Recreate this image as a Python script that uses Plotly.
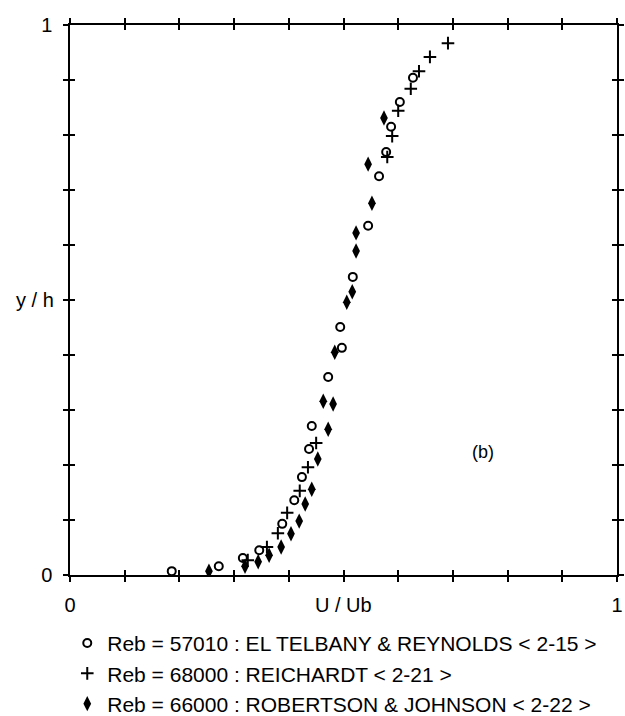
import plotly.graph_objects as go

# Mean velocity profiles U/Ub versus y/h
telbany_u = [0.186, 0.272, 0.316, 0.346, 0.388, 0.410, 0.424, 0.437, 0.442, 0.472,
             0.497, 0.494, 0.517, 0.545, 0.565, 0.578, 0.587, 0.603, 0.627]
telbany_y = [0.007, 0.016, 0.031, 0.045, 0.093, 0.136, 0.178, 0.229, 0.271, 0.360,
             0.413, 0.451, 0.542, 0.635, 0.725, 0.769, 0.815, 0.860, 0.904]

reichardt_u = [0.325, 0.360, 0.380, 0.397, 0.420, 0.435, 0.450,
               0.580, 0.589, 0.600, 0.623, 0.638, 0.658, 0.691]
reichardt_y = [0.027, 0.051, 0.076, 0.113, 0.153, 0.196, 0.240,
               0.760, 0.798, 0.844, 0.884, 0.916, 0.942, 0.967]

robertson_u = [0.254, 0.320, 0.344, 0.364, 0.386, 0.404, 0.419, 0.430, 0.442, 0.453,
               0.472, 0.463, 0.481, 0.484, 0.506, 0.516, 0.523, 0.523, 0.552, 0.545, 0.574]
robertson_y = [0.007, 0.016, 0.024, 0.036, 0.051, 0.075, 0.098, 0.129, 0.156, 0.211,
               0.265, 0.316, 0.311, 0.405, 0.496, 0.515, 0.589, 0.622, 0.676, 0.747, 0.831]

series_names = [
    "Reb = 57010 : EL TELBANY & REYNOLDS < 2-15 >",
    "Reb = 68000 : REICHARDT < 2-21 >",
    "Reb = 66000 : ROBERTSON & JOHNSON < 2-22 >",
]

tick_vals = [i / 10 for i in range(11)]
tick_text = ["0"] + [""] * 9 + ["1"]

FONT = "Liberation Sans, Arial, sans-serif"
INK = "black"

fig = go.Figure()
fig.add_trace(go.Scatter(
    x=telbany_u, y=telbany_y, mode="markers", name=series_names[0],
    marker=dict(symbol="circle-open", size=8, color=INK, line=dict(width=2, color=INK)),
))
fig.add_trace(go.Scatter(
    x=reichardt_u, y=reichardt_y, mode="markers", name=series_names[1],
    marker=dict(symbol="cross-thin-open", size=9, color=INK, line=dict(width=2, color=INK)),
))
fig.add_trace(go.Scatter(
    x=robertson_u, y=robertson_y, mode="markers", name=series_names[2],
    marker=dict(symbol="diamond-tall", size=11, color=INK, line=dict(width=0)),
))

# invisible helper trace on overlaid axes to draw the inner half of the ticks
fig.add_trace(go.Scatter(x=[0, 1], y=[0, 1], xaxis="x2", yaxis="y2", mode="markers",
                         marker=dict(opacity=0), showlegend=False, hoverinfo="skip"))

axis_common = dict(
    range=[0, 1], tickvals=tick_vals, showgrid=False, zeroline=False,
    showline=True, linecolor=INK, linewidth=1.5, mirror="ticks",
    tickcolor=INK, tickwidth=1.5, ticklen=5,
)

fig.update_layout(
    width=625, height=716,
    margin=dict(l=70, r=8, t=25, b=141, autoexpand=False),
    paper_bgcolor="white", plot_bgcolor="white",
    font=dict(family=FONT, color=INK, size=20),
    xaxis=dict(**axis_common, ticks="outside", ticktext=tick_text,
               tickfont=dict(size=20), ticklabelstandoff=6),
    yaxis=dict(**axis_common, ticks="outside", ticktext=tick_text,
               tickfont=dict(size=20), ticklabelstandoff=7),
    xaxis2=dict(**axis_common, ticks="inside", overlaying="x", showticklabels=False),
    yaxis2=dict(**axis_common, ticks="inside", overlaying="y", showticklabels=False),
    showlegend=True,
    legend=dict(x=-0.005, xanchor="left", y=0.13, yref="container", yanchor="top",
                font=dict(size=21, family=FONT), tracegroupgap=0,
                bgcolor="rgba(0,0,0,0)", itemwidth=30),
    annotations=[
        dict(text="U / Ub", x=0.5, y=-0.0545, xref="paper", yref="paper",
             xanchor="center", yanchor="middle", showarrow=False, font=dict(size=20)),
        dict(text="y / h", x=-0.064, y=0.5, xref="paper", yref="paper",
             xanchor="center", yanchor="middle", showarrow=False, font=dict(size=20)),
        dict(text="(b)", x=0.755, y=0.224, xref="x", yref="y",
             xanchor="center", yanchor="middle", showarrow=False, font=dict(size=18)),
    ],
)

fig.write_html("out.html")
